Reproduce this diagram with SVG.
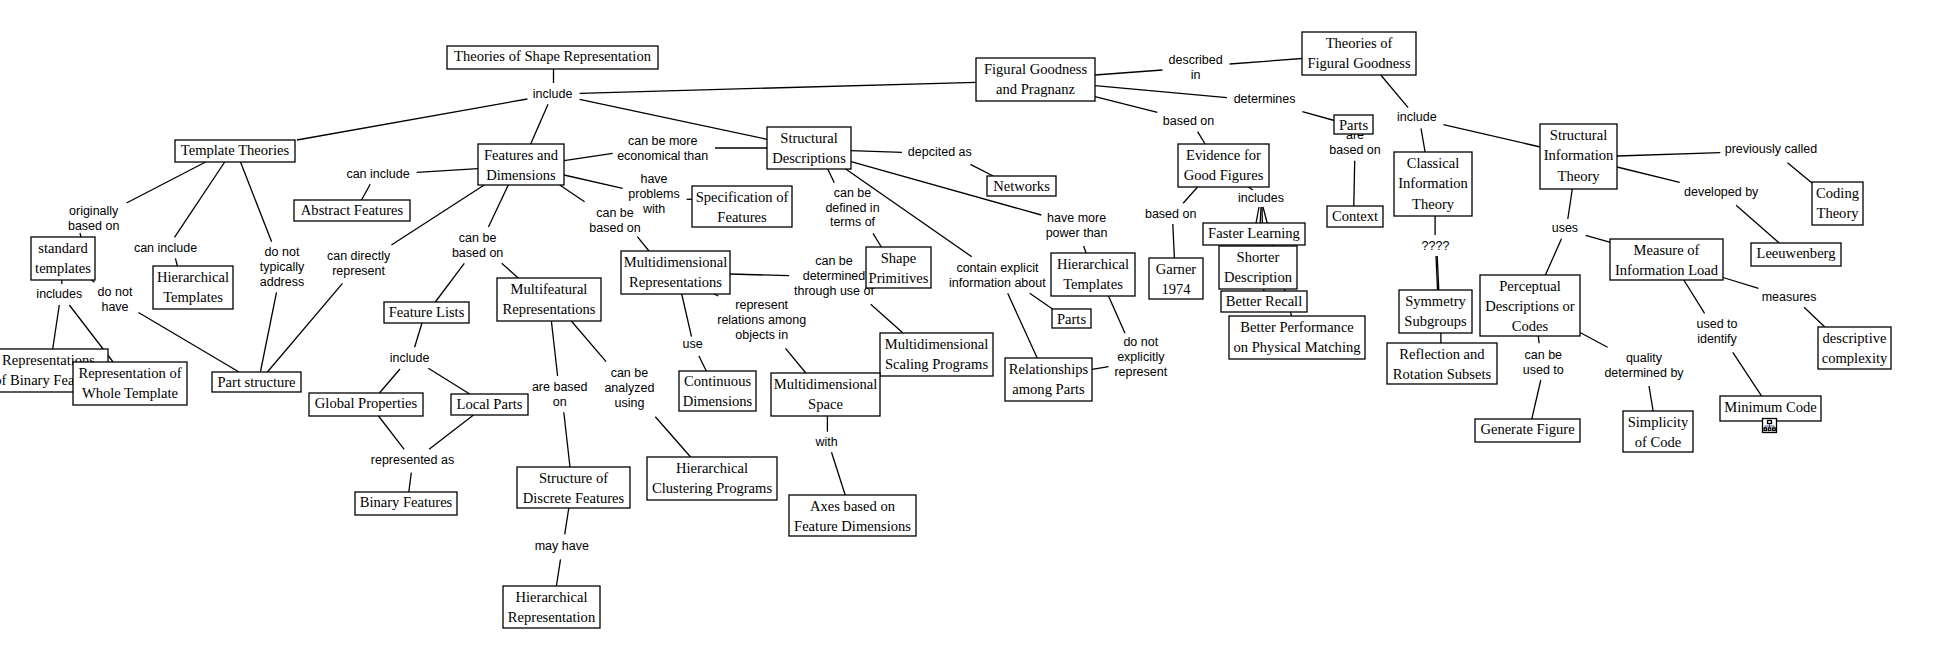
<svg xmlns="http://www.w3.org/2000/svg" width="1935" height="669" viewBox="0 0 1935 669">
<style>
.n rect{fill:#fff;stroke:#000;stroke-width:1.3}
.n text{font-family:"Liberation Serif","Times New Roman",serif;font-size:15.5px;text-anchor:middle;fill:#000;transform-box:fill-box;transform-origin:center;transform:scaleX(.94)}
.l{font-family:"Liberation Sans",Arial,sans-serif;font-size:12.5px;text-anchor:middle;fill:#000}
#connectors line{stroke:#000;stroke-width:1.3}
</style>
<rect x="0" y="0" width="1935" height="669" fill="#fff"/>
<g id="connectors">
<line x1="553.5" y1="69" x2="553.5" y2="83"/>
<line x1="527.4" y1="99" x2="296.9" y2="140"/>
<line x1="548" y1="104.3" x2="530.7" y2="144"/>
<line x1="579.6" y1="93.3" x2="976" y2="82.3"/>
<line x1="579.6" y1="99.3" x2="767" y2="139.3"/>
<line x1="478" y1="168.7" x2="416.7" y2="172.3"/>
<line x1="370.2" y1="184.3" x2="361.5" y2="200"/>
<line x1="564" y1="160.7" x2="612.7" y2="153.3"/>
<line x1="715" y1="148" x2="767" y2="148"/>
<line x1="564" y1="175" x2="622.7" y2="188.3"/>
<line x1="686.7" y1="199.3" x2="692" y2="199.3"/>
<line x1="559.7" y1="185" x2="584.6" y2="201.7"/>
<line x1="637.3" y1="236.7" x2="649" y2="251"/>
<line x1="484.2" y1="185" x2="391.4" y2="245"/>
<line x1="508.3" y1="185" x2="488.4" y2="227"/>
<line x1="205.6" y1="162" x2="126.5" y2="203"/>
<line x1="224.7" y1="162" x2="174.5" y2="237.3"/>
<line x1="240.5" y1="162" x2="271.6" y2="241.7"/>
<line x1="80" y1="233" x2="81" y2="237"/>
<line x1="175.4" y1="258.3" x2="177.4" y2="266"/>
<line x1="61.8" y1="280" x2="61.8" y2="284"/>
<line x1="91.7" y1="280" x2="94.3" y2="282.3"/>
<line x1="59.3" y1="305" x2="52.7" y2="349"/>
<line x1="69.3" y1="305" x2="130" y2="384"/>
<line x1="138.5" y1="312.5" x2="239" y2="372"/>
<line x1="276.5" y1="292.3" x2="260.4" y2="372"/>
<line x1="342.5" y1="283.3" x2="267.4" y2="372"/>
<line x1="464.3" y1="263.3" x2="435.3" y2="302"/>
<line x1="501.7" y1="263.3" x2="518.2" y2="278"/>
<line x1="422" y1="323" x2="414.6" y2="347.3"/>
<line x1="551.4" y1="321" x2="557.6" y2="376"/>
<line x1="571.3" y1="321" x2="606.1" y2="361.7"/>
<line x1="400" y1="369" x2="379.4" y2="393"/>
<line x1="428.3" y1="368.3" x2="469.7" y2="394"/>
<line x1="378.5" y1="416" x2="404.2" y2="449.3"/>
<line x1="473.5" y1="415" x2="429.1" y2="449.3"/>
<line x1="411.3" y1="472.7" x2="408.8" y2="492"/>
<line x1="563.8" y1="412.3" x2="570" y2="467"/>
<line x1="568.8" y1="508" x2="564.7" y2="534.3"/>
<line x1="560.5" y1="559.3" x2="556.4" y2="586"/>
<line x1="655.3" y1="416.7" x2="690.6" y2="457"/>
<line x1="730" y1="274" x2="789" y2="275.7"/>
<line x1="718.3" y1="296" x2="714" y2="294"/>
<line x1="681.7" y1="294" x2="691.5" y2="336.7"/>
<line x1="698.9" y1="356" x2="706.3" y2="371"/>
<line x1="785.5" y1="348.3" x2="805.8" y2="373"/>
<line x1="870.7" y1="304.3" x2="903" y2="333"/>
<line x1="827.4" y1="416" x2="827.4" y2="431.7"/>
<line x1="831.5" y1="452.3" x2="845.2" y2="495"/>
<line x1="851" y1="150.7" x2="902" y2="152.3"/>
<line x1="970.4" y1="164.3" x2="993.2" y2="176"/>
<line x1="827.7" y1="169" x2="834.3" y2="182.7"/>
<line x1="873" y1="233.3" x2="881.3" y2="247"/>
<line x1="845.7" y1="169" x2="971.7" y2="256.7"/>
<line x1="851" y1="161.7" x2="1041.3" y2="215"/>
<line x1="1083.6" y1="246" x2="1086.1" y2="253"/>
<line x1="1029.7" y1="293.3" x2="1052.5" y2="309"/>
<line x1="1007.7" y1="293.3" x2="1037.2" y2="358"/>
<line x1="1108.5" y1="296" x2="1125" y2="333.3"/>
<line x1="1092" y1="369.3" x2="1108.5" y2="366.7"/>
<line x1="1095" y1="75" x2="1162.4" y2="70"/>
<line x1="1229.6" y1="64" x2="1302" y2="58.5"/>
<line x1="1095" y1="85.7" x2="1227" y2="97.7"/>
<line x1="1095" y1="96.7" x2="1157.4" y2="112.3"/>
<line x1="1197.6" y1="131.7" x2="1205.1" y2="144"/>
<line x1="1197.6" y1="187" x2="1183.1" y2="203.3"/>
<line x1="1172.8" y1="224" x2="1174.4" y2="258"/>
<line x1="1248.6" y1="187" x2="1252.8" y2="190"/>
<line x1="1259" y1="207" x2="1254" y2="234"/>
<line x1="1261" y1="207" x2="1258" y2="268"/>
<line x1="1262" y1="207" x2="1264" y2="302"/>
<line x1="1263" y1="207" x2="1297" y2="337"/>
<line x1="1302.4" y1="111.7" x2="1334.3" y2="120.5"/>
<line x1="1354.7" y1="160.7" x2="1353.8" y2="206"/>
<line x1="1380.8" y1="75" x2="1408.1" y2="107.7"/>
<line x1="1421" y1="128.3" x2="1425.1" y2="152"/>
<line x1="1443.4" y1="124.7" x2="1540.4" y2="147"/>
<line x1="1435.1" y1="216" x2="1435.1" y2="235"/>
<line x1="1436" y1="256" x2="1437.6" y2="290.3"/>
<line x1="1437.2" y1="256" x2="1438.8" y2="290.3"/>
<line x1="1617" y1="156" x2="1720.3" y2="152.7"/>
<line x1="1787.5" y1="162.7" x2="1812" y2="183"/>
<line x1="1617" y1="167" x2="1679.7" y2="182.3"/>
<line x1="1736.1" y1="205.3" x2="1779.2" y2="243"/>
<line x1="1572.3" y1="189" x2="1567.8" y2="219"/>
<line x1="1561.5" y1="238.7" x2="1545.4" y2="275"/>
<line x1="1585.6" y1="235.3" x2="1610.5" y2="242.3"/>
<line x1="1723" y1="277.5" x2="1758.5" y2="288.3"/>
<line x1="1804.1" y1="307.3" x2="1824.8" y2="327"/>
<line x1="1683.8" y1="280" x2="1704.6" y2="313.3"/>
<line x1="1732.8" y1="352.3" x2="1761.8" y2="396.3"/>
<line x1="1440.9" y1="333" x2="1440.9" y2="343.3"/>
<line x1="1580" y1="332.5" x2="1607.6" y2="347.3"/>
<line x1="1538.3" y1="336" x2="1539.1" y2="343.3"/>
<line x1="1540.8" y1="380" x2="1531.7" y2="419.3"/>
<line x1="1649" y1="386" x2="1653.2" y2="411.3"/>
</g>
<g id="labels">
<text class="l" x="552.6" y="97.7">include</text>
<text class="l" x="378" y="177.7">can include</text>
<text class="l" x="93.7" y="215">originally</text>
<text class="l" x="93.7" y="229.7">based on</text>
<text class="l" x="165.5" y="251.5">can include</text>
<text class="l" x="282" y="255.7">do not</text>
<text class="l" x="282" y="270.7">typically</text>
<text class="l" x="282" y="285.7">address</text>
<text class="l" x="358.6" y="260">can directly</text>
<text class="l" x="358.6" y="274.7">represent</text>
<text class="l" x="477.6" y="242">can be</text>
<text class="l" x="477.6" y="256.7">based on</text>
<text class="l" x="615" y="217.3">can be</text>
<text class="l" x="615" y="231.7">based on</text>
<text class="l" x="59.3" y="298">includes</text>
<text class="l" x="115" y="295.7">do not</text>
<text class="l" x="115" y="310.7">have</text>
<text class="l" x="662.7" y="145">can be more</text>
<text class="l" x="662.7" y="159.7">economical than</text>
<text class="l" x="654" y="183.3">have</text>
<text class="l" x="654" y="198">problems</text>
<text class="l" x="654" y="213">with</text>
<text class="l" x="409.6" y="361.7">include</text>
<text class="l" x="412.5" y="464">represented as</text>
<text class="l" x="559.7" y="391">are based</text>
<text class="l" x="559.7" y="406.3">on</text>
<text class="l" x="629.4" y="376.7">can be</text>
<text class="l" x="629.4" y="391.7">analyzed</text>
<text class="l" x="629.4" y="406.7">using</text>
<text class="l" x="561.8" y="550">may have</text>
<text class="l" x="939.8" y="156">depcited as</text>
<text class="l" x="852.5" y="196.7">can be</text>
<text class="l" x="852.5" y="211.7">defined in</text>
<text class="l" x="852.5" y="226.3">terms of</text>
<text class="l" x="1076.6" y="221.7">have more</text>
<text class="l" x="1076.6" y="236.7">power than</text>
<text class="l" x="997.4" y="271.7">contain explicit</text>
<text class="l" x="997.4" y="286.7">information about</text>
<text class="l" x="834" y="265">can be</text>
<text class="l" x="834" y="279.7">determined</text>
<text class="l" x="834" y="294.7">through use of</text>
<text class="l" x="761.7" y="308.5">represent</text>
<text class="l" x="761.7" y="323.5">relations among</text>
<text class="l" x="761.7" y="338.5">objects in</text>
<text class="l" x="692.7" y="348.3">use</text>
<text class="l" x="826.6" y="445.7">with</text>
<text class="l" x="1140.8" y="345.7">do not</text>
<text class="l" x="1140.8" y="360.7">explicitly</text>
<text class="l" x="1140.8" y="375.7">represent</text>
<text class="l" x="1195.6" y="64">described</text>
<text class="l" x="1195.6" y="79">in</text>
<text class="l" x="1264.6" y="103.3">determines</text>
<text class="l" x="1188.5" y="124.7">based on</text>
<text class="l" x="1170.7" y="217.7">based on</text>
<text class="l" x="1261" y="202.3">includes</text>
<text class="l" x="1416.8" y="121.3">include</text>
<text class="l" x="1355" y="139.3">are</text>
<text class="l" x="1355" y="154">based on</text>
<text class="l" x="1435.5" y="250">????</text>
<text class="l" x="1564.9" y="231.7">uses</text>
<text class="l" x="1770.9" y="152.7">previously called</text>
<text class="l" x="1721.2" y="196">developed by</text>
<text class="l" x="1789.1" y="300.7">measures</text>
<text class="l" x="1717" y="327.5">used to</text>
<text class="l" x="1717" y="342.5">identify</text>
<text class="l" x="1543.3" y="359">can be</text>
<text class="l" x="1543.3" y="373.7">used to</text>
<text class="l" x="1644" y="362">quality</text>
<text class="l" x="1644" y="377">determined by</text>
</g>
<g id="n1" class="n"><rect x="447" y="46" width="211" height="23"/><text x="552.5" y="61.5">Theories of Shape Representation</text></g>
<g id="n2" class="n"><rect x="175" y="140" width="120" height="22"/><text x="235" y="155.3">Template Theories</text></g>
<g id="n3" class="n"><rect x="478" y="144" width="86" height="41"/><text x="521" y="160">Features and<tspan x="521" y="180.3">Dimensions</tspan></text></g>
<g id="n4" class="n"><rect x="294" y="200" width="116" height="21"/><text x="352" y="215.3">Abstract Features</text></g>
<g id="n5" class="n"><rect x="31" y="237" width="64" height="43"/><text x="63" y="253">standard<tspan x="63" y="273.3">templates</tspan></text></g>
<g id="n6" class="n"><rect x="153" y="266" width="80" height="43"/><text x="193" y="282">Hierarchical<tspan x="193" y="302.3">Templates</tspan></text></g>
<g id="n7" class="n"><rect x="384" y="302" width="85" height="21"/><text x="426.5" y="317.3">Feature Lists</text></g>
<g id="n8" class="n"><rect x="497" y="278" width="104" height="43"/><text x="549" y="294">Multifeatural<tspan x="549" y="314.3">Representations</tspan></text></g>
<g id="n9" class="n"><rect x="621" y="251" width="109" height="43"/><text x="675.5" y="267">Multidimensional<tspan x="675.5" y="287.3">Representations</tspan></text></g>
<g id="n10" class="n"><rect x="-11" y="349" width="119" height="43"/><text x="48.5" y="365">Representations<tspan x="48.5" y="385.3">of Binary Features</tspan></text></g>
<g id="n11" class="n"><rect x="73" y="362" width="114" height="43"/><text x="130" y="378">Representation of<tspan x="130" y="398.3">Whole Template</tspan></text></g>
<g id="n12" class="n"><rect x="212" y="372" width="89" height="20"/><text x="256.5" y="387">Part structure</text></g>
<g id="n13" class="n"><rect x="309" y="393" width="114" height="23"/><text x="366" y="408.5">Global Properties</text></g>
<g id="n14" class="n"><rect x="451" y="394" width="77" height="21"/><text x="489.5" y="409.3">Local Parts</text></g>
<g id="n15" class="n"><rect x="355" y="492" width="102" height="23"/><text x="406" y="507.5">Binary Features</text></g>
<g id="n16" class="n"><rect x="517" y="467" width="113" height="41"/><text x="573.5" y="483">Structure of<tspan x="573.5" y="503.3">Discrete Features</tspan></text></g>
<g id="n17" class="n"><rect x="503" y="586" width="97" height="42"/><text x="551.5" y="602">Hierarchical<tspan x="551.5" y="622.3">Representation</tspan></text></g>
<g id="n18" class="n"><rect x="767" y="127" width="84" height="42"/><text x="809" y="143">Structural<tspan x="809" y="163.3">Descriptions</tspan></text></g>
<g id="n19" class="n"><rect x="692" y="186" width="100" height="41"/><text x="742" y="202.3">Specification of<tspan x="742" y="221.7">Features</tspan></text></g>
<g id="n20" class="n"><rect x="987" y="176" width="69" height="20"/><text x="1021.5" y="191">Networks</text></g>
<g id="n21" class="n"><rect x="976" y="58" width="119" height="43"/><text x="1035.5" y="74">Figural Goodness<tspan x="1035.5" y="94.3">and Pragnanz</tspan></text></g>
<g id="n22" class="n"><rect x="1178" y="144" width="91" height="43"/><text x="1223.5" y="160">Evidence for<tspan x="1223.5" y="180.3">Good Figures</tspan></text></g>
<g id="n23" class="n"><rect x="866" y="247" width="65" height="41"/><text x="898.5" y="263">Shape<tspan x="898.5" y="283.3">Primitives</tspan></text></g>
<g id="n24" class="n"><rect x="1051" y="253" width="84" height="43"/><text x="1093" y="269">Hierarchical<tspan x="1093" y="289.3">Templates</tspan></text></g>
<g id="n25" class="n"><rect x="1149" y="258" width="54" height="41"/><text x="1176" y="274">Garner<tspan x="1176" y="294.3">1974</tspan></text></g>
<g id="n26" class="n"><rect x="1203" y="223" width="102" height="22"/><text x="1254" y="238.3">Faster Learning</text></g>
<g id="n27" class="n"><rect x="1219" y="246" width="78" height="43"/><text x="1258" y="262">Shorter<tspan x="1258" y="282.3">Description</tspan></text></g>
<g id="n28" class="n"><rect x="1221" y="291" width="86" height="21"/><text x="1264" y="306.3">Better Recall</text></g>
<g id="n29" class="n"><rect x="1229" y="316" width="136" height="43"/><text x="1297" y="332">Better Performance<tspan x="1297" y="352.3">on Physical Matching</tspan></text></g>
<g id="n30" class="n"><rect x="1052" y="309" width="39" height="19"/><text x="1071.5" y="324">Parts</text></g>
<g id="n31" class="n"><rect x="880" y="333" width="113" height="43"/><text x="936.5" y="349">Multidimensional<tspan x="936.5" y="369.3">Scaling Programs</tspan></text></g>
<g id="n32" class="n"><rect x="679" y="371" width="77" height="40"/><text x="717.5" y="386.5">Continuous<tspan x="717.5" y="406.5">Dimensions</tspan></text></g>
<g id="n33" class="n"><rect x="771" y="373" width="109" height="43"/><text x="825.5" y="389">Multidimensional<tspan x="825.5" y="409.3">Space</tspan></text></g>
<g id="n34" class="n"><rect x="1005" y="358" width="87" height="43"/><text x="1048.5" y="374">Relationships<tspan x="1048.5" y="394.3">among Parts</tspan></text></g>
<g id="n35" class="n"><rect x="647" y="457" width="130" height="43"/><text x="712" y="473">Hierarchical<tspan x="712" y="493.3">Clustering Programs</tspan></text></g>
<g id="n36" class="n"><rect x="789" y="495" width="127" height="41"/><text x="852.5" y="511">Axes based on<tspan x="852.5" y="531.3">Feature Dimensions</tspan></text></g>
<g id="n37" class="n"><rect x="1302" y="32" width="114" height="43"/><text x="1359" y="48">Theories of<tspan x="1359" y="68.3">Figural Goodness</tspan></text></g>
<g id="n38" class="n"><rect x="1334" y="115" width="39" height="19"/><text x="1353.5" y="130.5">Parts</text></g>
<g id="n39" class="n"><rect x="1327" y="206" width="56" height="21"/><text x="1355" y="221.3">Context</text></g>
<g id="n40" class="n"><rect x="1394" y="152" width="78" height="64"/><text x="1433" y="168">Classical<tspan x="1433" y="188.3">Information</tspan><tspan x="1433" y="208.6">Theory</tspan></text></g>
<g id="n41" class="n"><rect x="1540" y="124" width="77" height="65"/><text x="1578.5" y="140">Structural<tspan x="1578.5" y="160.5">Information</tspan><tspan x="1578.5" y="181">Theory</tspan></text></g>
<g id="n42" class="n"><rect x="1812" y="182" width="51" height="43"/><text x="1837.5" y="198">Coding<tspan x="1837.5" y="218.3">Theory</tspan></text></g>
<g id="n43" class="n"><rect x="1751" y="243" width="90" height="23"/><text x="1796" y="258.5">Leeuwenberg</text></g>
<g id="n44" class="n"><rect x="1610" y="239" width="113" height="41"/><text x="1666.5" y="255">Measure of<tspan x="1666.5" y="275.3">Information Load</tspan></text></g>
<g id="n45" class="n"><rect x="1480" y="275" width="100" height="61"/><text x="1530" y="291">Perceptual<tspan x="1530" y="311.3">Descriptions or</tspan><tspan x="1530" y="331.3">Codes</tspan></text></g>
<g id="n46" class="n"><rect x="1399" y="290" width="73" height="43"/><text x="1435.5" y="306">Symmetry<tspan x="1435.5" y="326.3">Subgroups</tspan></text></g>
<g id="n47" class="n"><rect x="1818" y="327" width="73" height="42"/><text x="1854.5" y="343">descriptive<tspan x="1854.5" y="363.3">complexity</tspan></text></g>
<g id="n48" class="n"><rect x="1387" y="343" width="110" height="41"/><text x="1442" y="359">Reflection and<tspan x="1442" y="379.3">Rotation Subsets</tspan></text></g>
<g id="n49" class="n"><rect x="1475" y="419" width="105" height="23"/><text x="1527.5" y="434.5">Generate Figure</text></g>
<g id="n50" class="n"><rect x="1623" y="411" width="70" height="41"/><text x="1658" y="427">Simplicity<tspan x="1658" y="447.3">of Code</tspan></text></g>
<g id="n51" class="n"><rect x="1720" y="396" width="101" height="25"/><text x="1770.5" y="411.7">Minimum Code</text>
<g id="n51-icon"><rect x="1762.5" y="418.5" width="14" height="14" fill="#eef0fa" stroke="#1d2d6b" stroke-width="1"/><rect x="1767.5" y="420.5" width="4" height="3" fill="#3a5bc7"/><path d="M1769.5 423.5V426M1765 426H1774M1765 426V428M1769.5 426V428M1774 426V428" stroke="#1d2d6b" stroke-width="0.8" fill="none"/><rect x="1764" y="428" width="2.5" height="2.5" fill="#3a5bc7"/><rect x="1768.3" y="428" width="2.5" height="2.5" fill="#3a5bc7"/><rect x="1772.7" y="428" width="2.5" height="2.5" fill="#3a5bc7"/></g></g>
</svg>
